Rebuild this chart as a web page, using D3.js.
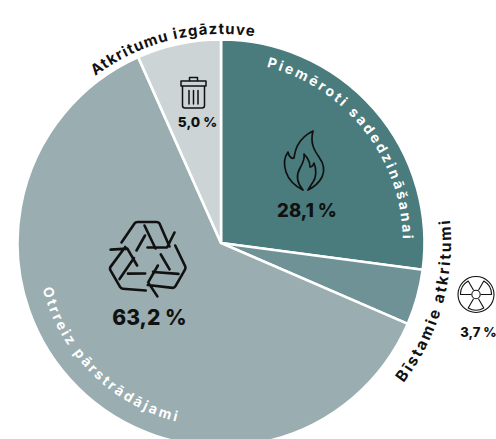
<!DOCTYPE html>
<html>
<head>
<meta charset="utf-8">
<script src="https://cdn.jsdelivr.net/npm/d3@7"></script>
<style>html,body{margin:0;padding:0;background:#fff}svg{display:block}</style>
</head>
<body>
<script>
const categories = ["Piemēroti sadedzināšanai", "Bīstamie atkritumi", "Otrreiz pārstrādājami", "Atkritumu izgāztuve"];
const drawnShares = [27.1, 4.4, 61.83, 6.67];
const percentLabels = ["28,1 %", "3,7 %", "63,2 %", "5,0 %"];
const colors = ["#4a7c7e", "#6f9296", "#9aadb0", "#ccd4d6"];

const W = 496, H = 439, cx = 221, cy = 243, R = 203.5;
const FONT = "Inter, 'Open Sans', sans-serif";

const svg = d3.select("body").append("svg").attr("width", W).attr("height", H);
const g = svg.append("g").attr("transform", `translate(${cx},${cy})`);
const pie = d3.pie().sort(null).value(d => d)(drawnShares);
const arc = d3.arc().innerRadius(0).outerRadius(R);

g.selectAll("path.slice").data(pie).join("path").attr("class", "slice")
  .attr("d", arc).attr("fill", (d, i) => colors[i]).attr("stroke", "#fff").attr("stroke-width", 2.6);

const curved = [
  {r: 182, c: -38, ccw: false, fill: "#fff", ls: 2.6, size: 14},
  {r: 230, c: 15.6, ccw: true, fill: "#111", ls: 2.1, size: 15.5},
  {r: 184, c: 134.5, ccw: true, fill: "#fff", ls: 2.6, size: 14},
  {r: 209, c: -103.8, ccw: false, fill: "#111", ls: 1.1, size: 15}
];
const rad = d => d * Math.PI / 180;
curved.forEach((l, i) => {
  const p = d3.path();
  const a0 = l.ccw ? l.c + 80 : l.c - 80, a1 = l.ccw ? l.c - 80 : l.c + 80;
  p.arc(0, 0, l.r, rad(a0), rad(a1), l.ccw);
  g.append("path").attr("id", "lp" + i).attr("d", p.toString()).attr("fill", "none");
  g.append("text").attr("font-family", FONT).attr("font-weight", 700)
    .attr("font-size", l.size).attr("letter-spacing", l.ls).attr("fill", l.fill)
    .append("textPath").attr("href", "#lp" + i).attr("startOffset", "50%")
    .attr("text-anchor", "middle").text(categories[i]);
});

const pct = [
  {x: 307, y: 217, size: 18.5},
  {x: 478.5, y: 337, size: 13},
  {x: 149.5, y: 325, size: 21},
  {x: 197.5, y: 127, size: 13.6}
];
svg.selectAll("text.pct").data(pct).join("text").attr("class", "pct")
  .attr("x", d => d.x).attr("y", d => d.y).attr("font-size", d => d.size)
  .attr("font-family", FONT).attr("font-weight", 800).attr("fill", "#111")
  .attr("text-anchor", "middle").text((d, i) => percentLabels[i]);

const ink = "#111";
const icon = (x, y, sw) => svg.append("g").attr("transform", `translate(${x},${y})`)
  .attr("fill", "none").attr("stroke", ink).attr("stroke-width", sw)
  .attr("stroke-linejoin", "round").attr("stroke-linecap", "round");

const bin = icon(193.5, 92.5, 1.5);
bin.append("path").attr("d", "M-12.5,-11.5H12.5V-6.5H-12.5Z M-4,-11.5V-15H4V-11.5 M-11,-6.5V13Q-11,15.5 -8.5,15.5H8.5Q11,15.5 11,13V-6.5 M-4.5,-2V11.5 M0,-2V11.5 M4.5,-2V11.5");

const flame = icon(305, 161, 1.7);
flame.append("path").attr("d", "M8,-30 C-8,-22 -10,-10 -11,-3 C-13,-2 -16,-4 -17,-9 C-22,-2 -21,5 -19,11 C-16,20 -8,26 -2,29 M8,-30 C5,-18 9,-11 14,-4 C19,3 20,10 17,16 C14,22 9,26 3,29 M-2,29 C-8,22 -9,14 -5,7 C-2,2 0,-2 -1,-7 C3,-3 5,1 5,6 C6,6 8,5 9,2 C12,9 11,17 8,21 C6,24 5,26 3,29");

const rd = icon(476, 294.5, 1.1);
rd.append("circle").attr("r", 18);
rd.append("circle").attr("r", 4.2);
[0, 120, 240].forEach(a => rd.append("path").attr("transform", `rotate(${a})`)
  .attr("d", "M-2.6,4.5 L-7.8,13.5 A15.6,15.6 0 0 0 7.8,13.5 L2.6,4.5"));

const rc = icon(147.5, 259.5, 2.6);
[0, 120, 240].forEach(a => rc.append("path").attr("transform", `rotate(${a})`)
  .attr("d", "M-26,-17 L-13,-36 Q-12,-37.5 -10,-37.5 H9 Q11,-37.5 12,-36 L22,-13 M27,-27 L19.5,-12 H0 M-11,-9 L-2.5,-24 M-3,-34 L8,-11"));
</script>
</body>
</html>
